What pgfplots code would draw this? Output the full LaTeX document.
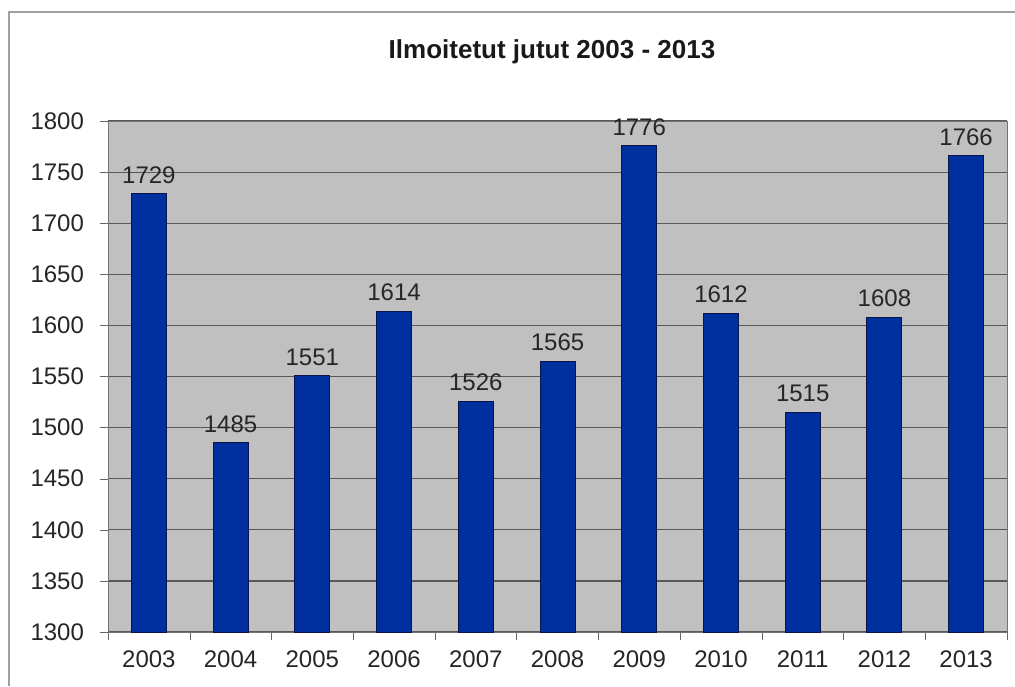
\documentclass[border=0pt]{standalone}
\usepackage{fontspec}
\setmainfont{Liberation Sans}
\usepackage{pgfplots}
\pgfplotsset{compat=1.18}
\definecolor{bgray}{RGB}{192,192,192}
\definecolor{barblue}{RGB}{0,48,160}
\definecolor{bardark}{RGB}{10,20,70}
\definecolor{framegray}{RGB}{160,160,160}
\begin{document}
\begin{tikzpicture}
\useasboundingbox (0,0) rectangle (507.5pt,343pt);
\draw[framegray, line width=1pt] (4.5pt,0pt) -- (4.5pt,337pt) -- (507.5pt,337pt);
\node[font=\fontsize{13}{15}\selectfont\bfseries, text=black!90] at (276pt,317pt) {Ilmoitetut jutut 2003 - 2013};
\begin{axis}[
  at={(54pt,27pt)}, anchor=south west,
  width=449.5pt, height=255.5pt, scale only axis,
  ybar, bar width=17.5pt,
  xmin=-0.5, xmax=10.5, ymin=1300, ymax=1800,
  ytick={1300,1350,...,1800},
  xtick={0,...,10},
  xticklabels={2003,2004,2005,2006,2007,2008,2009,2010,2011,2012,2013},
  minor xtick={-0.5,0.5,...,10.5},
  major x tick style={draw=none},
  tick align=outside, major tick length=4pt, minor tick length=4pt,
  xtick pos=bottom, ytick pos=left,
  ymajorgrids, grid style={black!65, line width=0.6pt},
  axis line style={black!55},
  axis background/.style={fill=bgray},
  tick style={black!60},
  /pgf/number format/1000 sep={},
  /pgf/number format/assume math mode=true,
  tick label style={font=\fontsize{12}{14}\selectfont, text=black!85},
  yticklabel style={xshift=-4.5pt},
  xticklabel style={yshift=-2pt},
  nodes near coords,
  every node near coord/.append style={font=\fontsize{12}{14}\selectfont, text=black!85, yshift=1.5pt},
  clip=false,
]
\addplot[fill=barblue, draw=bardark, line width=0.5pt] coordinates {
(0,1729) (1,1485) (2,1551) (3,1614) (4,1526) (5,1565) (6,1776) (7,1612) (8,1515) (9,1608) (10,1766)};
\end{axis}
\end{tikzpicture}
\end{document}
